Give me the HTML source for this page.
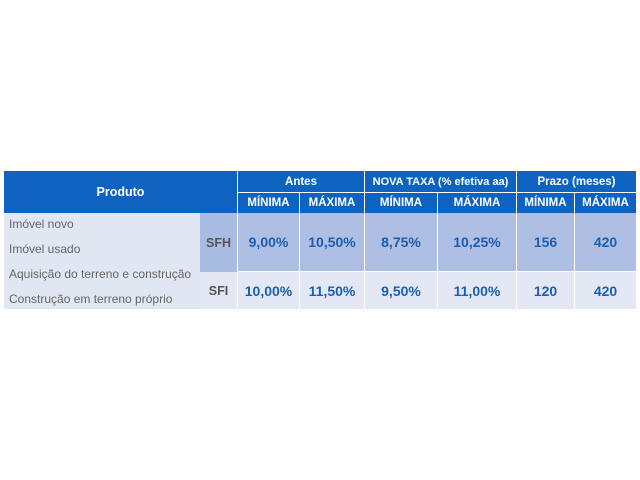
<!DOCTYPE html>
<html><head><meta charset="utf-8"><style>
body{margin:0;width:640px;height:480px;background:#fff;position:relative;font-family:"Liberation Sans",sans-serif;overflow:hidden}
div{position:absolute;box-sizing:border-box;display:flex;align-items:center;justify-content:center;white-space:nowrap}
.h{background:#0d63bf;color:#fff;font-weight:bold;font-size:11.5px}
.v{color:#1a5fb0;font-weight:bold;font-size:14px}
.l{color:#666;font-size:12px;justify-content:flex-start;padding-left:5px}
</style></head><body>
<div class="h" style="left:4px;top:171px;width:233px;height:42px;font-size:12.5px">Produto</div>
<div class="h" style="left:238px;top:171px;width:126px;height:21px">Antes</div>
<div class="h" style="left:365px;top:171px;width:151px;height:21px;font-size:11px">NOVA TAXA (% efetiva aa)</div>
<div class="h" style="left:517px;top:171px;width:119px;height:21px">Prazo (meses)</div>
<div class="h" style="left:238px;top:193px;width:61px;height:20px">MÍNIMA</div>
<div class="h" style="left:300px;top:193px;width:64px;height:20px">MÁXIMA</div>
<div class="h" style="left:365px;top:193px;width:72px;height:20px">MÍNIMA</div>
<div class="h" style="left:438px;top:193px;width:78px;height:20px">MÁXIMA</div>
<div class="h" style="left:517px;top:193px;width:57px;height:20px">MÍNIMA</div>
<div class="h" style="left:575px;top:193px;width:61px;height:20px">MÁXIMA</div>

<div style="left:4px;top:213px;width:196px;height:96px;background:#e1e6f3"></div>
<div class="l" style="left:4px;top:214px;width:196px;height:20px">Imóvel novo</div>
<div class="l" style="left:4px;top:239px;width:196px;height:20px">Imóvel usado</div>
<div class="l" style="left:4px;top:264px;width:196px;height:20px">Aquisição do terreno e construção</div>
<div class="l" style="left:4px;top:289px;width:196px;height:20px">Construção em terreno próprio</div>

<div style="left:200px;top:213px;width:37px;height:59px;background:#a9bce2;color:#555;font-weight:bold;font-size:12.5px">SFH</div>
<div style="left:200px;top:272px;width:37px;height:37px;background:#e3e8f4;color:#555;font-weight:bold;font-size:12.5px">SFI</div>

<div class="v" style="left:238px;top:213px;width:61px;height:58px;background:#aebfe3">9,00%</div>
<div class="v" style="left:300px;top:213px;width:64px;height:58px;background:#aebfe3">10,50%</div>
<div class="v" style="left:365px;top:213px;width:72px;height:58px;background:#aebfe3">8,75%</div>
<div class="v" style="left:438px;top:213px;width:78px;height:58px;background:#aebfe3">10,25%</div>
<div class="v" style="left:517px;top:213px;width:57px;height:58px;background:#aebfe3">156</div>
<div class="v" style="left:575px;top:213px;width:61px;height:58px;background:#aebfe3">420</div>

<div class="v" style="left:238px;top:272px;width:61px;height:37px;background:#e3e8f4">10,00%</div>
<div class="v" style="left:300px;top:272px;width:64px;height:37px;background:#e3e8f4">11,50%</div>
<div class="v" style="left:365px;top:272px;width:72px;height:37px;background:#e3e8f4">9,50%</div>
<div class="v" style="left:438px;top:272px;width:78px;height:37px;background:#e3e8f4">11,00%</div>
<div class="v" style="left:517px;top:272px;width:57px;height:37px;background:#e3e8f4">120</div>
<div class="v" style="left:575px;top:272px;width:61px;height:37px;background:#e3e8f4">420</div>
</body></html>
